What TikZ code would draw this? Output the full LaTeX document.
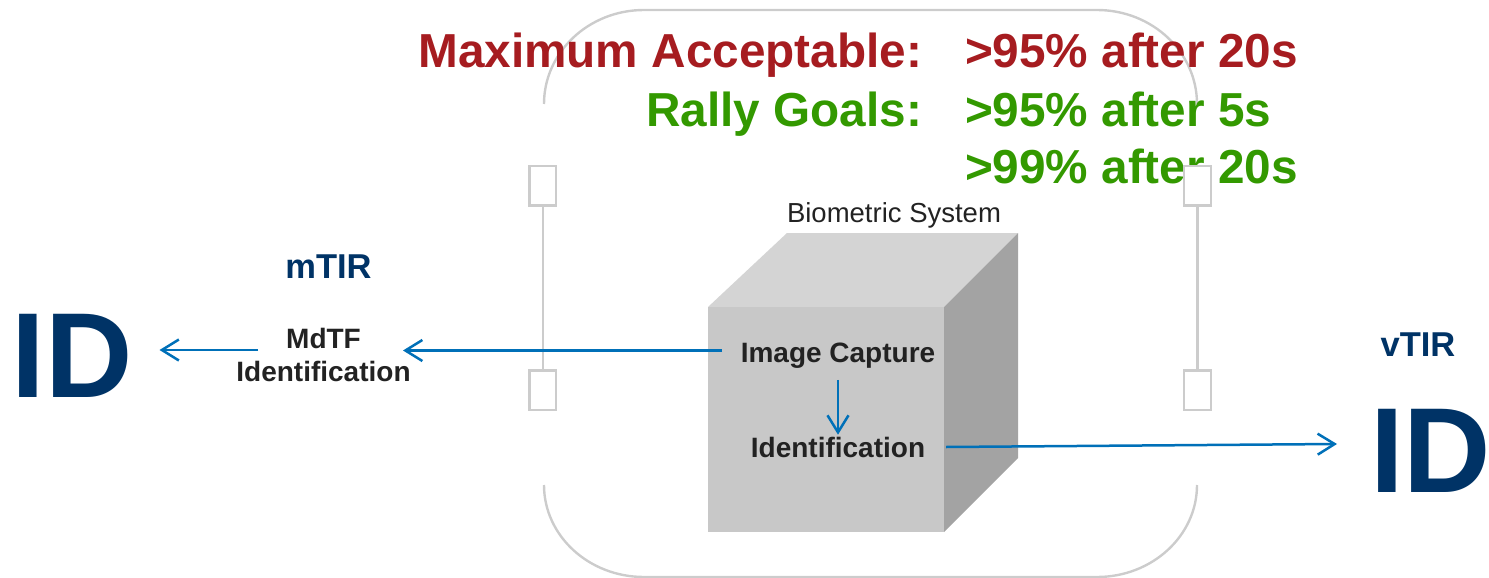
\documentclass[tikz,border=0pt]{standalone}
\usepackage{fontspec}
\setmainfont{Liberation Sans}
\usetikzlibrary{arrows.meta}
\definecolor{navy}{RGB}{0,51,102}
\definecolor{redt}{RGB}{166,28,32}
\definecolor{greent}{RGB}{51,153,0}
\definecolor{arrowblue}{RGB}{0,112,184}
\definecolor{outl}{RGB}{204,204,204}
\definecolor{ctop}{RGB}{212,212,212}
\definecolor{cfront}{RGB}{200,200,200}
\definecolor{cside}{RGB}{163,163,163}
\definecolor{txt}{RGB}{34,34,34}
\begin{document}
\begin{tikzpicture}[x=1pt,y=-1pt,
  lbl/.style={inner sep=0pt, outer sep=0pt},
  bigtxt/.style={lbl, font=\bfseries\fontsize{47.7}{58}\selectfont},
  midtxt/.style={lbl, text=txt, font=\bfseries\fontsize{28}{33}\selectfont},
  tirtxt/.style={lbl, text=navy, font=\bfseries\fontsize{34.5}{40}\selectfont},
  idtxt/.style={lbl, text=navy, font=\bfseries\fontsize{121}{140}\selectfont},
  flow/.style={draw=arrowblue, line width=2.5pt, -{Straight Barb[length=17pt,width=21pt]}},
  frame/.style={draw=outl, line width=2.4pt},
  postbox/.style={draw=outl, line width=2.4pt, fill=white}]
\useasboundingbox (0,0) rectangle (1489,578);

% rounded outline (top and bottom parts only)
\draw[frame] (544,104) .. controls (544,52.1) and (588.8,10) .. (644,10)
  -- (1097,10) .. controls (1152.2,10) and (1197,52.1) .. (1197,104);
\draw[frame] (544,485) .. controls (544,535.8) and (588.8,577) .. (644,577)
  -- (1097,577) .. controls (1152.2,577) and (1197,535.8) .. (1197,485);

% headline texts
\node[bigtxt, text=redt, anchor=base east] (maxl) at (922,68) {Maximum Acceptable:};
\node[bigtxt, text=redt, anchor=base west] (maxv) at (965,68) {>95\% after 20s};
\node[bigtxt, text=greent, anchor=base east] (rallyl) at (922,126) {Rally Goals:};
\node[bigtxt, text=greent, anchor=base west] (rallyv1) at (965,126) {>95\% after 5s};
\node[bigtxt, text=greent, anchor=base west] (rallyv2) at (965,183) {>99\% after 20s};

% posts
\draw[frame] (542.7,205) -- (542.7,370);
\draw[postbox] (529.5,166) rectangle (556,205.5);
\draw[postbox] (529.5,370.5) rectangle (556,410);
\draw[frame] (1197.3,205) -- (1197.3,370);
\draw[postbox] (1184,166) rectangle (1211,205.5);
\draw[postbox] (1184,370.5) rectangle (1211,410);

% cube
\fill[ctop] (708,307) -- (787,233) -- (1018,233) -- (944,307) -- cycle;
\fill[cside] (944,307) -- (1018,233) -- (1018,458) -- (944,532) -- cycle;
\fill[cfront] (708,307) rectangle (944,532);

\node[lbl, text=txt, anchor=base, font=\fontsize{27.5}{33}\selectfont] (bio) at (894,222) {Biometric System};
\node[midtxt, anchor=base] (ic) at (838,362) {Image Capture};
\node[midtxt, anchor=base] (idf) at (838,457) {Identification};

% left side
\node[midtxt, anchor=base] (mdtf1) at (323.5,348) {MdTF};
\node[midtxt, anchor=base] (mdtf2) at (323.5,381.5) {Identification};
\node[tirtxt, anchor=base] (mtir) at (328.5,278) {mTIR};
\node[idtxt, anchor=base] (idl) at (72,397) {ID};

% right side
\node[tirtxt, anchor=base] (vtir) at (1418,356) {vTIR};
\node[idtxt, anchor=base west] (idr) at (1370,492) {ID};

% connectors
\coordinate (a1s) at (722,350.5);
\coordinate (a1e) at (403,350.5);
\coordinate (a2s) at (258,350);
\coordinate (a2e) at (159.5,350);
\coordinate (a3s) at (946,447);
\coordinate (a3e) at (1337,444);
\draw[flow] (a1s) -- (a1e);
\draw[flow] (a2s) -- (a2e);
\draw[flow] (a3s) -- (a3e);
\draw[flow] ([yshift=-12pt]ic.south) -- ([yshift=2pt]idf.north);
\end{tikzpicture}
\end{document}
